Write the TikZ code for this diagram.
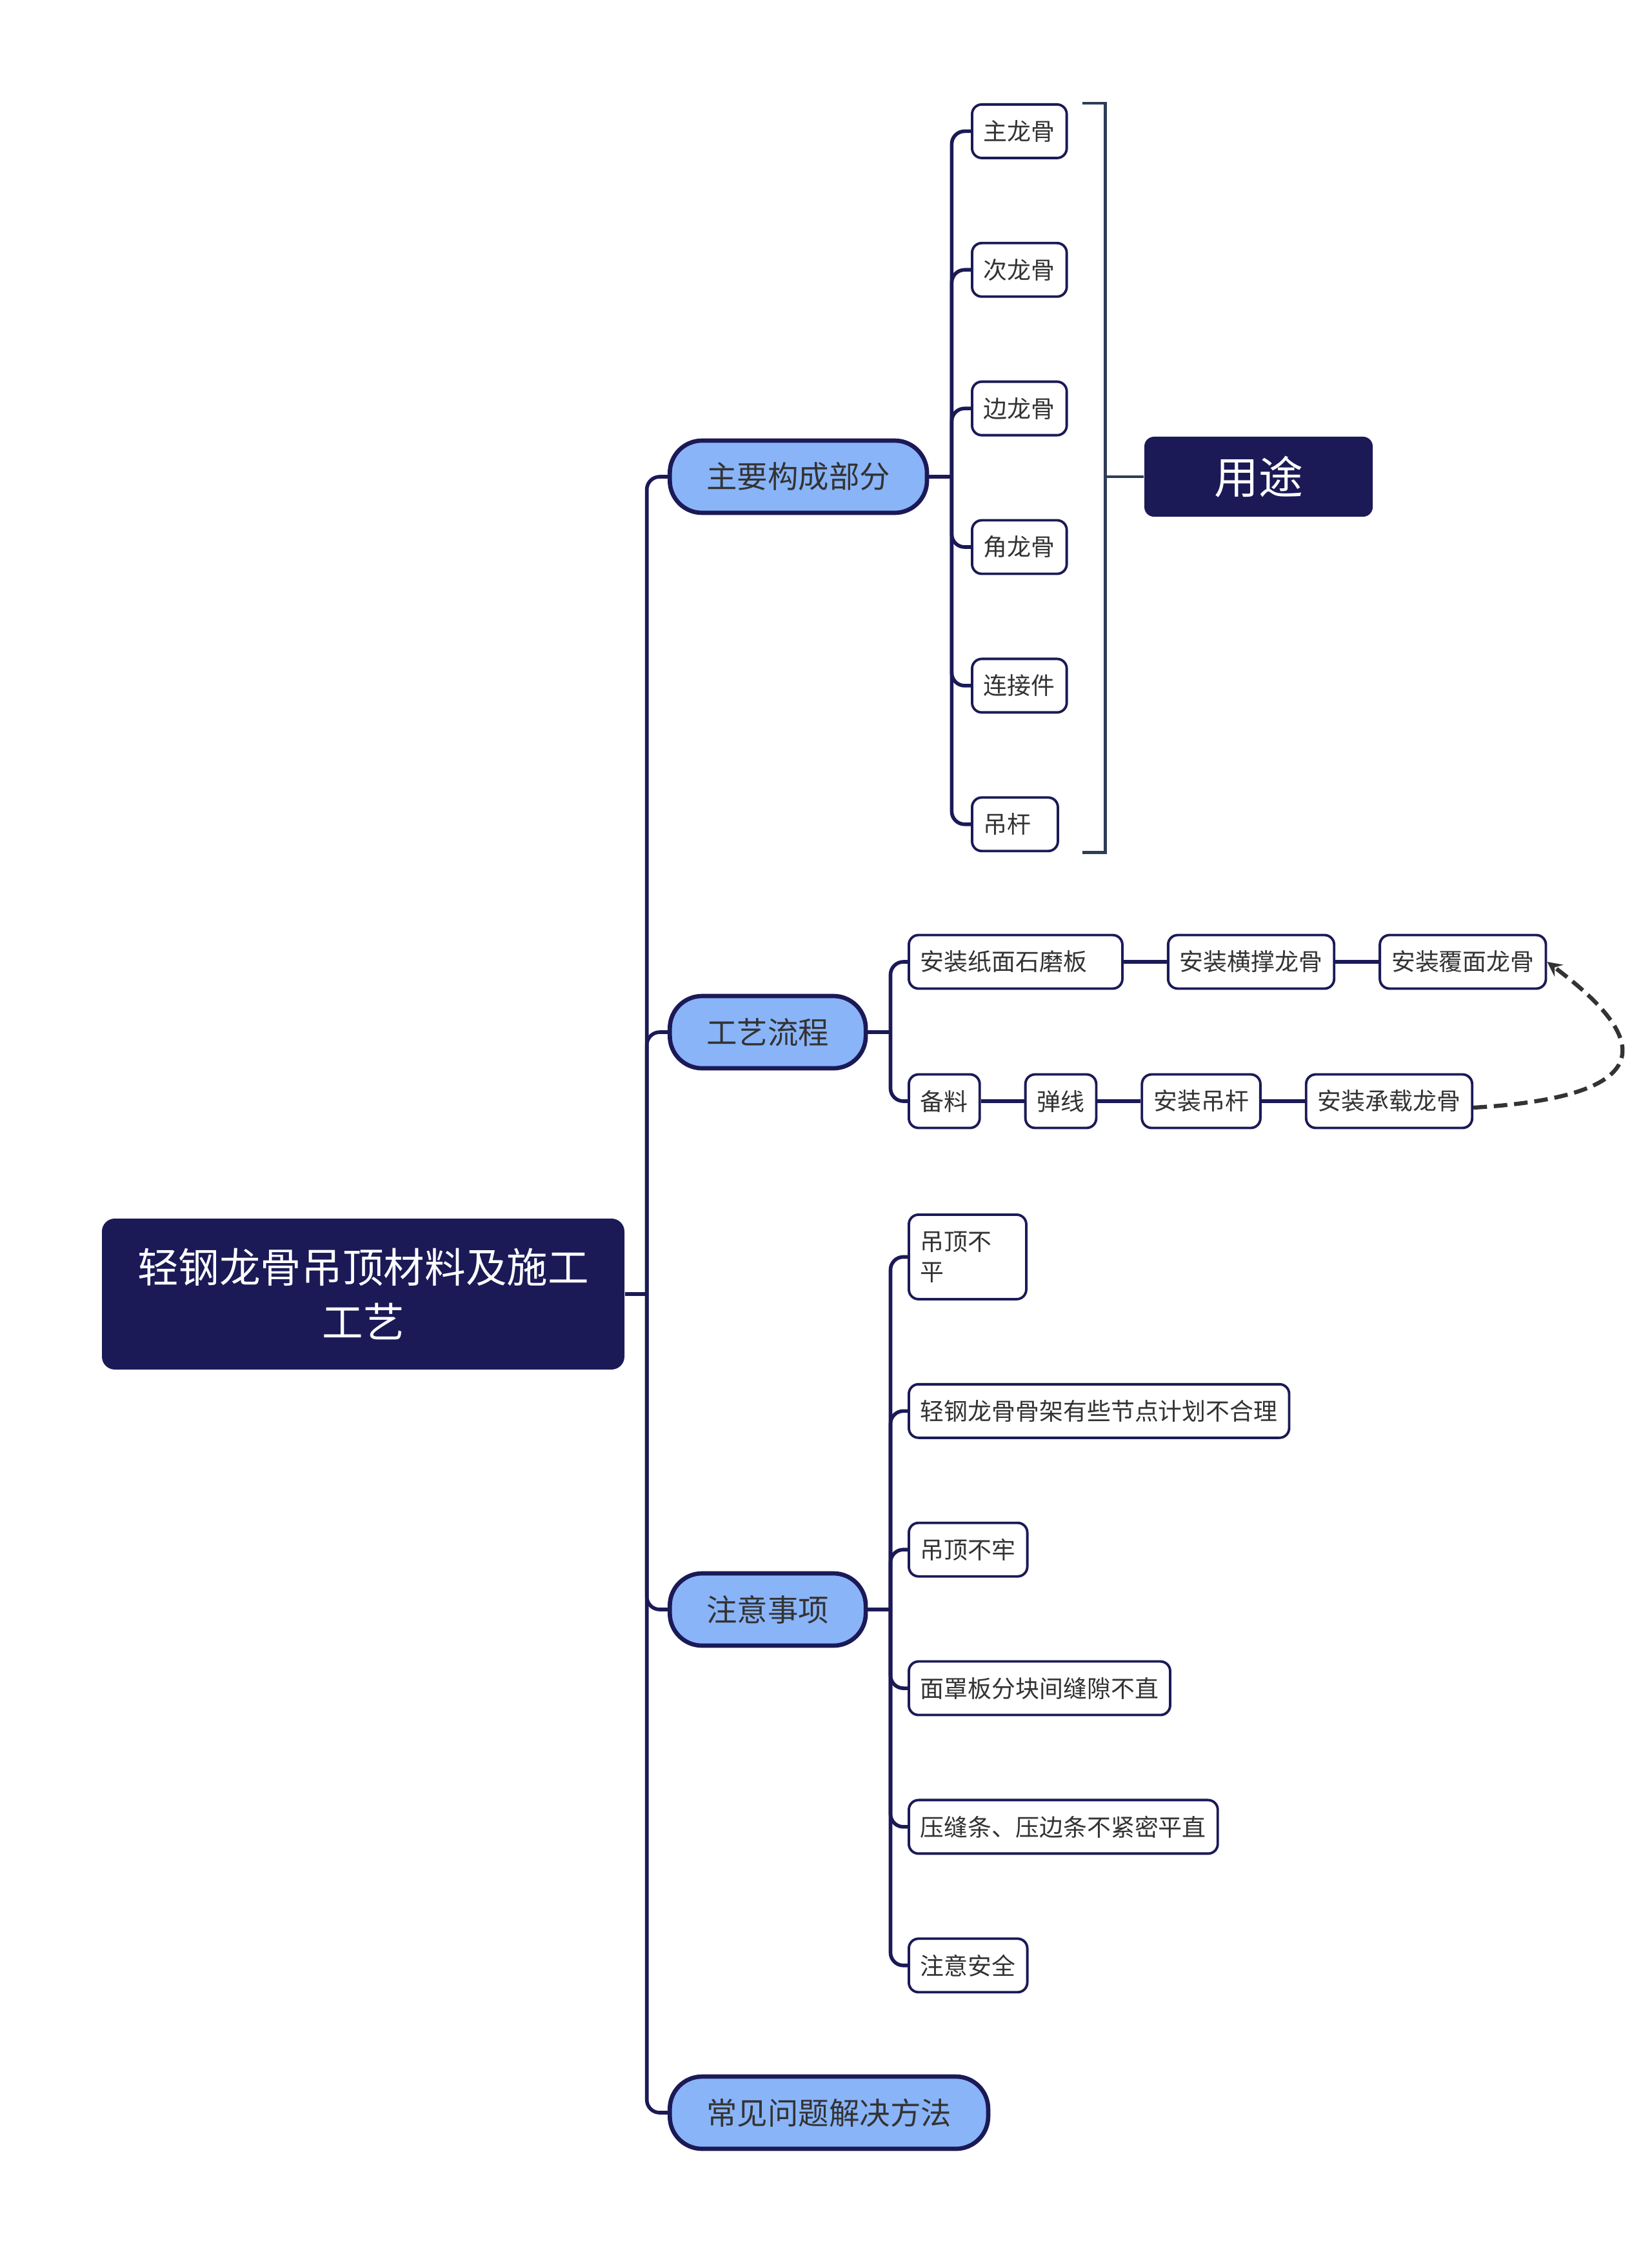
\documentclass[tikz,border=0pt]{standalone}
\usepackage{fontspec}
\setmainfont{Noto Sans CJK SC}
\usepackage{tikz}
\usetikzlibrary{arrows, positioning}

\definecolor{navy}{HTML}{1B1A57}
\definecolor{skyblue}{HTML}{8AB4F8}
\definecolor{textgray}{HTML}{333333}
\definecolor{bracegray}{HTML}{2F3D55}

\tikzstyle{central} = [rectangle, rounded corners=0.2cm,
minimum width=8.1cm,
minimum height=2.34cm,
align=center,
text=white,
fill=navy,
font=\fontsize{18.1}{24.2}\selectfont]
\tikzstyle{branch} = [rectangle, rounded corners=0.5cm,
minimum height=1.12cm,
inner xsep=0.57cm,
text=textgray,
draw=navy, line width=1.9pt,
fill=skyblue,
font=\fontsize{13.5}{16}\selectfont]
\tikzstyle{leaf} = [rectangle, rounded corners=0.15cm,
minimum height=0.83cm,
inner xsep=0.18cm,
align=left,
text=textgray,
draw=navy, line width=1.1pt,
fill=white,
font=\fontsize{10.5}{13.4}\selectfont]
\tikzstyle{summary} = [rectangle, rounded corners=0.15cm,
minimum width=3.54cm,
minimum height=1.24cm,
text=white,
fill=navy,
font=\fontsize{19.6}{24}\selectfont]
\tikzstyle{conn} = [draw=navy, line width=1.6pt, rounded corners=0.2cm]
\tikzstyle{brace} = [draw=bracegray, line width=1.4pt]
\tikzstyle{arrow} = [draw=textgray, line width=1.8pt, dash pattern=on 6pt off 3pt, ->, >=stealth]

\begin{document}
\begin{tikzpicture}[node distance=1.28cm]
\useasboundingbox (0,0) rectangle (25.6,-34.91);

\node (root) [central] at (5.63,-20.06) {轻钢龙骨吊顶材料及施工\\工艺};

\node (parts) [branch, anchor=west] at (10.35,-7.39) {主要构成部分};
\node (process) [branch, anchor=west] at (10.35,-16.00) {工艺流程};
\node (notes) [branch, anchor=west] at (10.35,-24.95) {注意事项};
\node (solutions) [branch, anchor=west] at (10.35,-32.75) {常见问题解决方法};

% main parts
\node (main_keel) [leaf, anchor=north west] at (15.05,-1.60) {主龙骨};
\node (sub_keel) [leaf, below=of main_keel.south west, anchor=north west] {次龙骨};
\node (edge_keel) [leaf, below=of sub_keel.south west, anchor=north west] {边龙骨};
\node (corner_keel) [leaf, below=of edge_keel.south west, anchor=north west] {角龙骨};
\node (connector) [leaf, below=of corner_keel.south west, anchor=north west] {连接件};
\node (hanger) [leaf, text width=0.97cm, below=of connector.south west, anchor=north west] {吊杆};

\node (usage) [summary] at (19.51,-7.39) {用途};

% process
\node (install_board) [leaf, text width=2.95cm, anchor=west] at (14.07,-14.91) {安装纸面石磨板};
\node (install_brace) [leaf, right=0.67cm of install_board] {安装横撑龙骨};
\node (install_cover) [leaf, right=0.67cm of install_brace] {安装覆面龙骨};
\node (prepare) [leaf, anchor=west] at (14.07,-17.07) {备料};
\node (snap_line) [leaf, right=0.67cm of prepare] {弹线};
\node (install_hanger) [leaf, right=0.67cm of snap_line] {安装吊杆};
\node (install_carrier) [leaf, right=0.67cm of install_hanger] {安装承载龙骨};

% notes
\node (uneven) [leaf, text width=1.46cm, minimum height=1.31cm, anchor=north west] at (14.07,-18.81) {吊顶不\\平};
\node (unreasonable) [leaf, below=of uneven.south west, anchor=north west] {轻钢龙骨骨架有些节点计划不合理};
\node (loose) [leaf, below=of unreasonable.south west, anchor=north west] {吊顶不牢};
\node (gaps) [leaf, below=of loose.south west, anchor=north west] {面罩板分块间缝隙不直};
\node (strips) [leaf, below=of gaps.south west, anchor=north west] {压缝条、压边条不紧密平直};
\node (safety) [leaf, below=of strips.south west, anchor=north west] {注意安全};

\coordinate (j_root) at ([xshift=0.34cm]root.east);
\draw [conn] (root.east) -- (j_root);
\foreach \n in {parts, process, notes, solutions}
  \draw [conn] (j_root) |- (\n.west);

\coordinate (j_parts) at ([xshift=0.35cm]parts.east);
\draw [conn] (parts.east) -- (j_parts);
\foreach \n in {main_keel, sub_keel, edge_keel, corner_keel, connector, hanger}
  \draw [conn] (j_parts) |- (\n.west);

\coordinate (j_process) at ([xshift=0.35cm]process.east);
\draw [conn] (process.east) -- (j_process);
\draw [conn] (j_process) |- (install_board.west);
\draw [conn] (j_process) |- (prepare.west);
\draw [conn] (install_board) -- (install_brace);
\draw [conn] (install_brace) -- (install_cover);
\draw [conn] (prepare) -- (snap_line);
\draw [conn] (snap_line) -- (install_hanger);
\draw [conn] (install_hanger) -- (install_carrier);
\draw [arrow] ([yshift=-0.1cm]install_carrier.east) .. controls +(3.4,0.2) and +(1.2,-0.9) .. (install_cover.east);

\coordinate (j_notes) at ([xshift=0.35cm]notes.east);
\draw [conn] (notes.east) -- (j_notes);
\foreach \n in {uneven, unreasonable, loose, gaps, strips, safety}
  \draw [conn] (j_notes) |- (\n.west);

% summary bracket
\coordinate (brace_top) at ([xshift=0.22cm]main_keel.north east);
\draw [brace] (brace_top) -- ++(0.36,0) coordinate (brace_x) |- (brace_top |- hanger.south);
\draw [brace] (brace_x |- usage.west) -- (usage.west);

\end{tikzpicture}
\end{document}
